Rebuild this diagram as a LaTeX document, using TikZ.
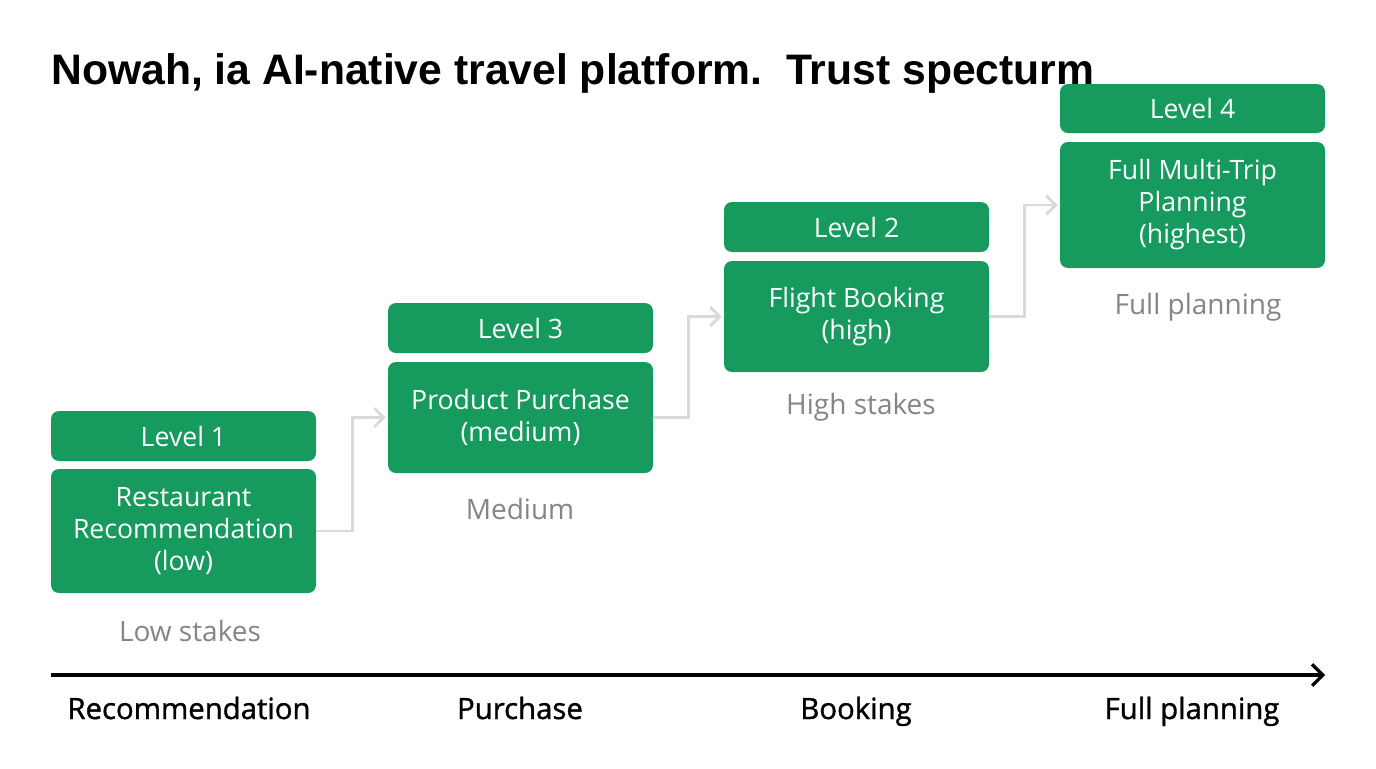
\documentclass[tikz,border=0pt]{standalone}
\usepackage{fontspec}
\setmainfont{Liberation Sans}
\newfontfamily\boxfont{Open Sans}
\newfontfamily\axfont{Open Sans}[FakeBold=1.2]
\usetikzlibrary{arrows.meta,calc}
\definecolor{boxgreen}{HTML}{169A5E}
\definecolor{lblgray}{HTML}{858585}
\definecolor{conngray}{HTML}{DADADA}
\tikzset{
  hdr/.style={fill=boxgreen, rounded corners=6pt, text=white, minimum width=198.75pt, minimum height=37.5pt, font=\boxfont\fontsize{20}{23}\selectfont, inner sep=0pt},
  mainbox/.style={fill=boxgreen, rounded corners=6pt, text=white, minimum width=198.75pt, align=center, font=\boxfont\fontsize{20}{24}\selectfont, inner sep=0pt},
  stake/.style={text=lblgray, anchor=base, font=\boxfont\fontsize{21}{23}\selectfont, inner sep=0pt},
  axlbl/.style={text=black, anchor=base, font=\axfont\fontsize{22}{24}\selectfont, inner sep=0pt},
  conn/.style={draw=conngray, line width=2.2pt, -{Straight Barb[length=7pt,width=14pt,line width=2.2pt]}},
}
\begin{document}
\begin{tikzpicture}[x=0.75pt,y=-0.75pt]
\useasboundingbox (0,0) rectangle (1376,768);
\fill[white] (0,0) rectangle (1376,768);
\node[anchor=base west, font=\fontsize{32}{36}\selectfont\bfseries, inner sep=0pt] (title) at (51,84) {Nowah, ia AI-native travel platform.\ \ Trust specturm};

\node[hdr] (h1) at (183.5,436) {Level 1};
\node[mainbox, minimum height=93pt] (m1) at (183.5,531) {Restaurant\\Recommendation\\(low)};
\node[stake] (s1) at (190,641) {Low stakes};

\node[hdr] (h3) at (520.5,328) {Level 3};
\node[mainbox, minimum height=83.25pt] (m3) at (520.5,417.5) {Product Purchase\\(medium)};
\node[stake] (s3) at (520,519) {Medium};

\node[hdr] (h2) at (856.5,227) {Level 2};
\node[mainbox, minimum height=83.25pt] (m2) at (856.5,316.5) {Flight Booking\\(high)};
\node[stake] (s2) at (861,414) {High stakes};

\node[hdr, minimum height=36.75pt] (h4) at (1192.5,108.5) {Level 4};
\node[mainbox, minimum height=94.5pt] (m4) at (1192.5,205) {Full Multi-Trip\\Planning\\(highest)};
\node[stake] (s4) at (1198,314) {Full planning};

\draw[conn] (m1.east) -- ++(36,0) |- ($(m3.west)+(-2,0)$);
\draw[conn] (m3.east) -- ++(35,0) |- ($(m2.west)+(-2,0)$);
\draw[conn] (m2.east) -- ++(35,0) |- ($(m4.west)+(-2,0)$);

\coordinate (a1) at (51,675);
\coordinate (a2) at (1325,675);
\draw[line width=2.4pt, -{Straight Barb[length=8pt,width=16pt,line width=2.4pt]}] (a1) -- (a2);

\node[axlbl] (x1) at (189,719) {Recommendation};
\node[axlbl] (x2) at (520,719) {Purchase};
\node[axlbl] (x3) at (856,719) {Booking};
\node[axlbl] (x4) at (1192,719) {Full planning};
\end{tikzpicture}
\end{document}
